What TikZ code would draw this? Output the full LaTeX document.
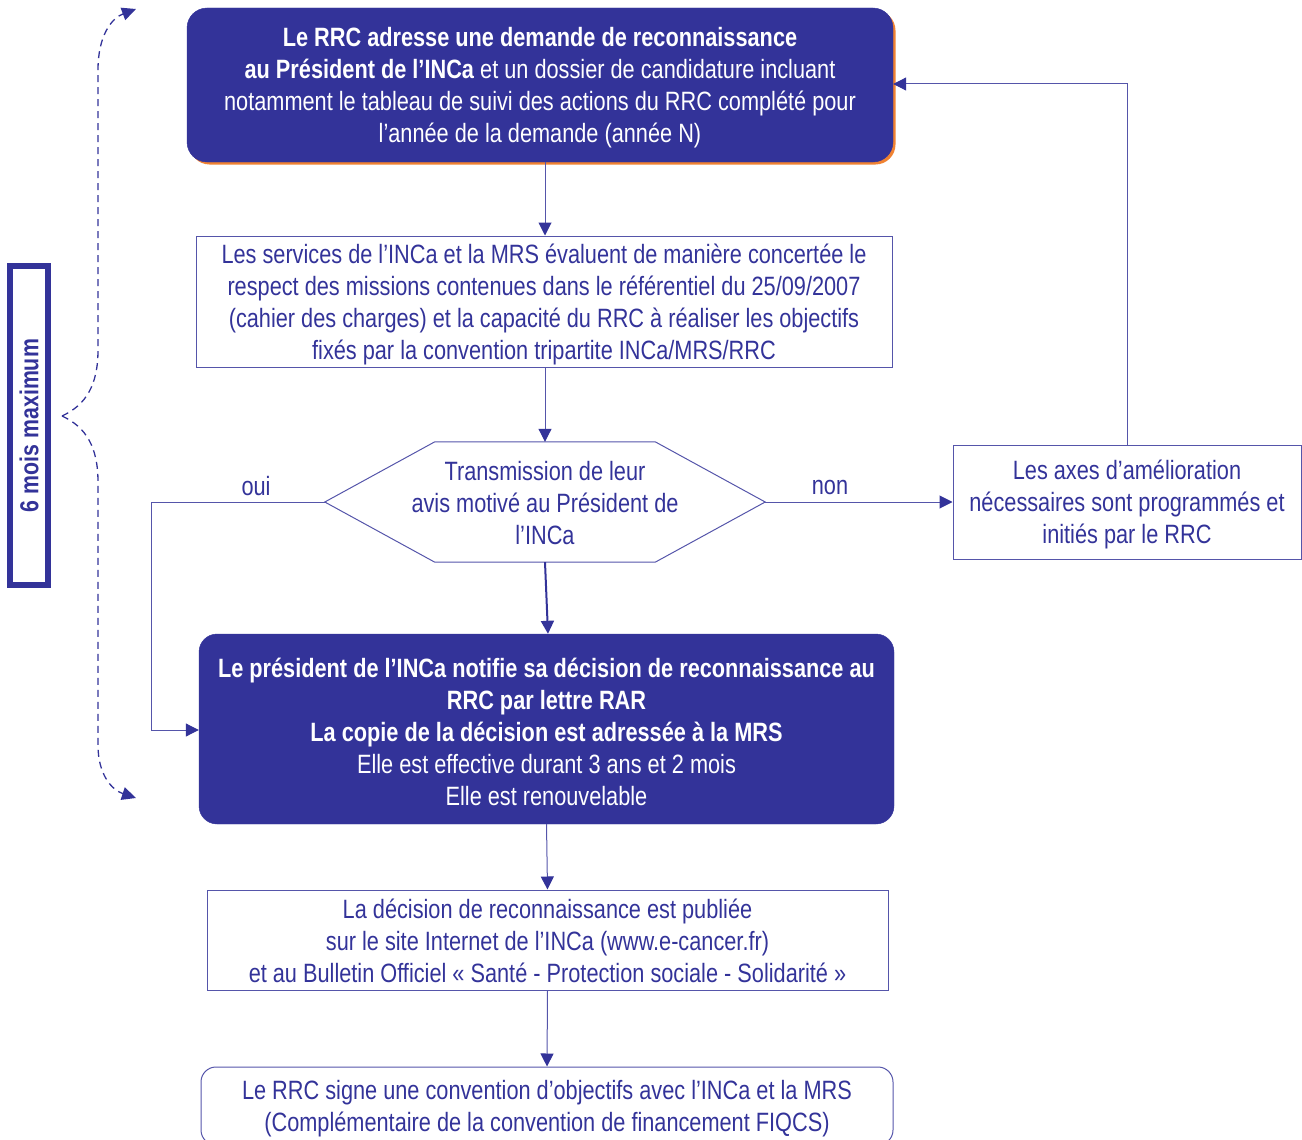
\documentclass[tikz,border=0pt]{standalone}
\usepackage{fontspec}
\setmainfont[FakeStretch=0.82]{Liberation Sans}
\usetikzlibrary{arrows.meta,shadows}
\definecolor{navy}{RGB}{51,51,153}
\definecolor{lnav}{RGB}{85,85,170}
\definecolor{orng}{RGB}{240,130,50}
\newcommand\mytopstrut{\rule{0pt}{24.5pt}}
\newcommand\mysmallstrut{\rule{0pt}{21pt}}
\begin{document}
\begin{tikzpicture}[x=1pt,y=-1pt,
  lbl/.style={font=\fontsize{26.5}{32}\selectfont, inner sep=0pt, text=navy},
  txt/.style={font=\fontsize{26.5}{32}\selectfont, align=center, inner sep=0pt},
  fillbox/.style={txt, fill=navy, draw=navy, text=white},
  linebox/.style={txt, draw=lnav, line width=1pt, text=navy},
  arr/.style={draw=lnav, line width=1pt, -{Triangle[length=13pt,width=13pt,color=navy]}},
  conn/.style={draw=lnav, line width=1pt},
  brace/.style={draw=navy, line width=1.3pt, dash pattern=on 7pt off 5pt}
]
\useasboundingbox (0,0) rectangle (1302,1140);

% top box
\node[fillbox, minimum width=706pt, minimum height=154pt, rounded corners=20pt,
  drop shadow={shadow xshift=2.5pt, shadow yshift=-2.5pt, fill=orng, opacity=1}] (b1) at (540,85)
  {\mytopstrut\textbf{Le RRC adresse une demande de reconnaissance}\\
   \textbf{au Président de l’INCa} et un dossier de candidature incluant\\
   notamment le tableau de suivi des actions du RRC complété pour\\
   l’année de la demande (année N)};

% evaluation box
\node[linebox, minimum width=696pt, minimum height=131pt] (b2) at (544,301.5)
  {\mytopstrut Les services de l’INCa et la MRS évaluent de manière concertée le\\
   respect des missions contenues dans le référentiel du 25/09/2007\\
   (cahier des charges) et la capacité du RRC à réaliser les objectifs\\
   fixés par la convention tripartite INCa/MRS/RRC};

% hexagon decision
\node[txt, text=navy, minimum width=440pt, minimum height=120pt] (hex) at (545,502)
  {\mysmallstrut Transmission de leur\\ avis motivé au Président de\\ l’INCa};
\draw[conn] (hex.west) -- ([xshift=110pt]hex.north west) -- ([xshift=-110pt]hex.north east)
  -- (hex.east) -- ([xshift=-110pt]hex.south east) -- ([xshift=110pt]hex.south west) -- cycle;

% improvement box
\node[linebox, minimum width=348pt, minimum height=114pt] (b3) at (1127,502)
  {\mytopstrut Les axes d’amélioration\\ nécessaires sont programmés et\\ initiés par le RRC};

% decision box
\node[fillbox, minimum width=695pt, minimum height=190pt, rounded corners=18pt] (b4) at (546.5,729)
  {\mytopstrut\textbf{Le président de l’INCa notifie sa décision de reconnaissance au}\\
   \textbf{RRC par lettre RAR}\\
   \textbf{La copie de la décision est adressée à la MRS}\\
   Elle est effective durant 3 ans et 2 mois\\
   Elle est renouvelable};

% publication box
\node[linebox, minimum width=681pt, minimum height=100pt] (b5) at (547.5,940)
  {\mysmallstrut La décision de reconnaissance est publiée\\
   sur le site Internet de l’INCa (www.e-cancer.fr)\\
   et au Bulletin Officiel « Santé - Protection sociale - Solidarité »};

% convention box
\node[linebox, minimum width=692pt, minimum height=78pt, rounded corners=15pt] (b6) at (547,1106)
  {\mytopstrut Le RRC signe une convention d’objectifs avec l’INCa et la MRS\\
   (Complémentaire de la convention de financement FIQCS)};

% left label
\node[draw=navy, line width=6pt, rotate=90, minimum width=319pt, minimum height=38pt,
  inner sep=0pt, text=navy, font=\fontsize{26}{30}\selectfont\bfseries] (lab) at (29,425.5) {6 mois maximum};

% labels
\node[lbl] (oui) at (256,486) {oui};
\node[lbl] (non) at (830,487) {non};

% connectors
\draw[arr] (b1.south -| hex.north) -- (b2.north -| hex.north);
\draw[arr] (b2.south -| hex.north) -- (hex.north);
\draw[arr] (hex.east) -- (b3.west);
\coordinate (fb) at (1127,84);
\draw[arr] (b3.north) -- (fb) -- (b1.east |- fb);
\coordinate (ol) at (151,502);
\coordinate (ob) at (151,730);
\draw[arr] (hex.west) -- (ol) -- (ob) -- (b4.west |- ob);
\draw[draw=navy, line width=2pt, -{Triangle[length=13pt,width=13pt,color=navy]}] (hex.south) -- ([xshift=1.5pt]b4.north);
\draw[arr] (b4.south) -- (b5.north);
\draw[arr] (b5.south) -- (b6.north);

% dashed brace
\coordinate (apex) at (62,416);
\coordinate (up) at (136,9);
\coordinate (dn) at (136,798);
\draw[brace, -{Triangle[length=14pt,width=13pt]}] (apex) .. controls (86,405) and (98,385) .. (98,350)
  -- (98,70) .. controls (98,35) and (112,18) .. (up);
\draw[brace, -{Triangle[length=14pt,width=13pt]}] (apex) .. controls (86,427) and (98,447) .. (98,482)
  -- (98,745) .. controls (98,775) and (112,790) .. (dn);
\end{tikzpicture}
\end{document}
